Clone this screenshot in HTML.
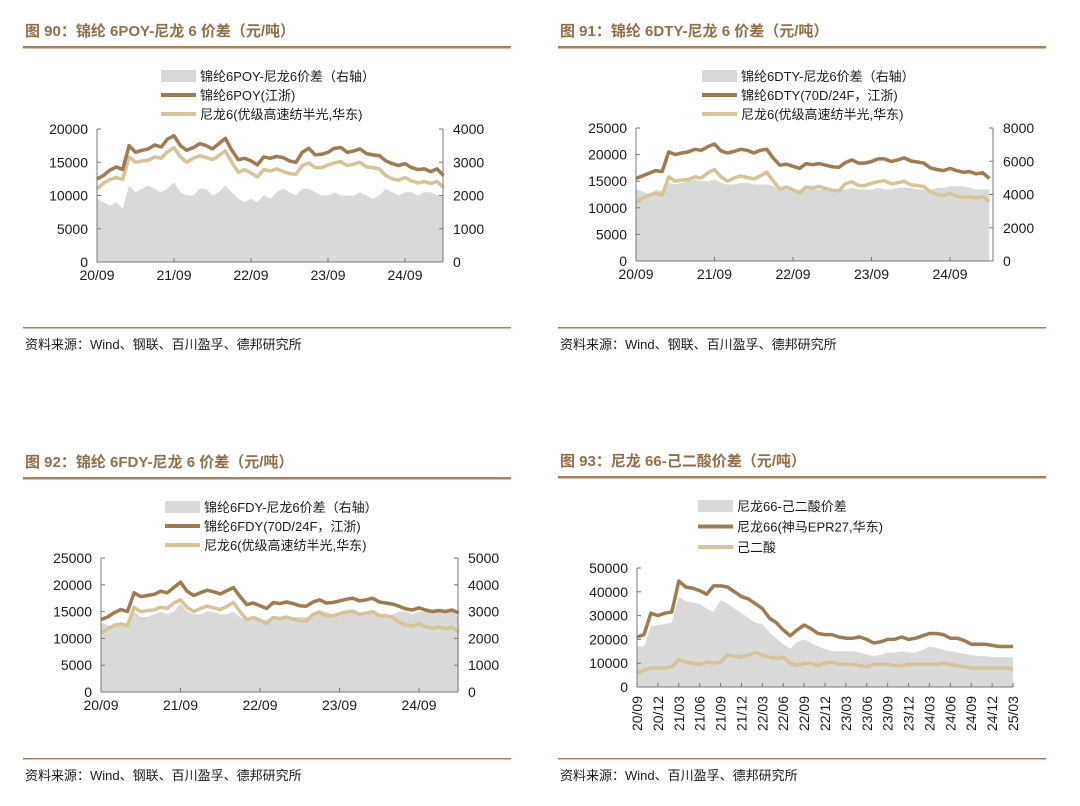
<!DOCTYPE html>
<html><head><meta charset="utf-8">
<style>
body{margin:0;background:#fff;}
svg{display:block;font-family:"Liberation Sans","Noto Sans CJK SC",sans-serif;}
</style></head>
<body>
<svg id="s" width="1080" height="806" xmlns="http://www.w3.org/2000/svg"></svg>
<script>
// ---- Data (monthly, 2020-09 .. 2025-03) ----
const months = ["20/09","20/10","20/11","20/12","21/01","21/02","21/03","21/04","21/05","21/06","21/07","21/08","21/09","21/10","21/11","21/12","22/01","22/02","22/03","22/04","22/05","22/06","22/07","22/08","22/09","22/10","22/11","22/12","23/01","23/02","23/03","23/04","23/05","23/06","23/07","23/08","23/09","23/10","23/11","23/12","24/01","24/02","24/03","24/04","24/05","24/06","24/07","24/08","24/09","24/10","24/11","24/12","25/01","25/02","25/03"];
const nylon6 = [11000,11800,12400,12700,12400,15800,15000,15200,15300,15800,15600,16600,17200,15800,15000,15600,16000,15700,15400,16000,16700,15000,13500,13900,13400,12800,13900,13700,14000,13600,13300,13200,14500,14900,14200,14200,14600,14900,15100,14500,14700,15000,14300,14200,14000,13000,12500,12300,12700,12200,11900,12100,11800,12100,11200];
const poy = [12500,13000,13800,14300,13900,17500,16500,16800,17000,17600,17300,18500,19000,17500,16800,17200,17800,17500,17000,17800,18600,16800,15400,15600,15200,14600,15800,15600,15900,15700,15200,15000,16500,17100,16100,16200,16500,17100,17200,16500,16700,17000,16300,16100,16000,15200,14800,14500,14800,14200,13900,14000,13600,14000,13000];
const poySpread = [1900,1800,1700,1800,1600,2300,2100,2200,2300,2200,2100,2200,2400,2100,2000,2000,2200,2200,2000,2100,2300,2100,1900,1800,1900,1800,2000,1900,2100,2200,2100,2000,2200,2200,2100,2000,2000,2100,2000,2000,2000,2100,2000,1900,2000,2200,2100,2000,2100,2100,2000,2100,2100,2000,2000];
const dty = [15500,16000,16500,17000,16800,20500,20000,20300,20500,21000,20800,21500,22000,20700,20300,20600,21000,20800,20300,20800,21000,19300,18000,18200,17800,17400,18300,18100,18300,18000,17700,17600,18500,19000,18400,18400,18700,19200,19200,18700,19000,19400,18800,18600,18400,17500,17200,17000,17400,17000,16700,16800,16400,16600,15500];
const dtySpread = [4300,4200,4000,4300,4200,4700,4600,4700,4800,4900,4800,4800,4900,4700,4600,4600,4700,4700,4600,4600,4600,4500,4300,4300,4300,4300,4300,4300,4300,4400,4300,4300,4300,4400,4300,4300,4300,4400,4300,4300,4400,4400,4400,4300,4300,4300,4400,4400,4500,4500,4500,4400,4300,4300,4300];
const fdy = [13500,14000,14800,15400,15000,18500,17800,18000,18200,18800,18500,19500,20500,18800,18000,18500,19000,18700,18300,18900,19500,17800,16300,16600,16100,15600,16700,16500,16800,16500,16100,16000,16800,17200,16600,16700,17000,17300,17500,17000,17200,17500,16800,16600,16400,16000,15500,15300,15700,15300,15000,15200,15000,15300,14700];
const fdySpread = [2600,2500,2400,2600,2500,3000,2800,2800,2900,3000,2900,3000,3300,3000,2900,2900,3000,3000,2900,2900,3000,2800,2700,2700,2700,2700,2800,2800,2800,2800,2800,2800,2900,3000,3000,2900,2900,3000,3000,2900,2900,3000,2900,2800,2900,3000,3000,2900,3000,3000,3000,3000,3100,3000,2800];
const pa66 = [21000,22000,31000,30000,31000,31500,44500,42000,41500,40500,39000,42500,42500,42000,40000,38000,37000,35000,33000,29000,27000,24000,21500,24000,26000,24500,22500,22000,22000,21000,20500,20500,21000,20000,18500,19000,20000,20000,21000,20000,20500,21500,22500,22500,22000,20500,20500,19500,18000,18000,18000,17500,17000,17000,17000];
const adipic = [6000,7000,8000,8000,8000,8500,11500,10500,10000,9500,10500,10000,10500,13500,13000,12500,13500,14500,13500,12500,12000,12500,10000,9000,10000,10000,9000,10000,10500,9500,9500,9500,9000,8500,9500,9500,9500,9000,9000,9500,9500,9500,9500,9500,10000,9500,9000,8500,8000,8000,8000,8000,8000,8000,7500];
const pa66Spread = [17000,17000,25500,26000,26500,27000,38000,36000,35500,35000,33000,31500,36500,35000,33000,31000,29000,27000,26500,23000,20500,18000,16000,19000,20000,18500,17000,16000,15000,15000,15000,15000,14500,13500,13000,13500,14500,14500,15000,14500,14500,15500,17000,16500,15500,15000,14500,14000,13500,13000,13000,12500,12500,12500,12500];
const yearTicks = ["20/09","21/09","22/09","23/09","24/09"];
const quarterTicks = ["20/09","20/12","21/03","21/06","21/09","21/12","22/03","22/06","22/09","22/12","23/03","23/06","23/09","23/12","24/03","24/06","24/09","24/12","25/03"];

const NS="http://www.w3.org/2000/svg";
const svg=document.getElementById('s');
const DARK="#9e7b51", LIGHT="#d6c398", GRAY="#d9d9d9", BRN="#a3835d", TXT="#1a1a1a";
function el(tag,attrs,parent){const e=document.createElementNS(NS,tag);for(const k in attrs)e.setAttribute(k,attrs[k]);(parent||svg).appendChild(e);return e;}
function txt(x,y,s,attrs){const t=el('text',Object.assign({x:x,y:y,'font-size':13,fill:TXT},attrs||{}));t.textContent=s;return t;}

function panel(p){
  const g=el('g',{});
  
  
  const t=txt(p.tx,p.ty,p.title,{'font-size':15,'font-weight':'bold',fill:"#8f6e4a"});
  
  
  g.appendChild(t);
  const r1=el('rect',{x:p.rx,y:p.ty+10,width:488,height:2.5,fill:BRN},g);
  
  
  const r2=el('rect',{x:p.rx,y:p.by,width:488,height:1.5,fill:BRN},g);
  
  
  const src=txt(p.tx,p.by+22,p.source,{'font-size':13});
  
  
  g.appendChild(src);

  const L=p.L,R=p.R,Y0=p.Y0,Y1=p.Y1;
  const n=months.length;
  const xs=i=>L+i*p.mw;
  const yl=v=>Y0-(v/p.lmax)*(Y0-Y1);
  const yr=v=>Y0-(v/p.rmax)*(Y0-Y1);
  const ySpread=p.rmax?yr:yl;
  let d="M"+xs(0)+","+Y0;
  p.spread.forEach((v,i)=>{d+=" L"+xs(i).toFixed(1)+","+ySpread(v).toFixed(1);});
  d+=" L"+xs(n-1)+","+Y0+" Z";
  const a=el('path',{d:d,fill:GRAY},g);
  
  
  [[p.light,LIGHT,'series-line-light'],[p.dark,DARK,'series-line-dark']].forEach(s=>{
    const pts=s[0].map((v,i)=>xs(i).toFixed(1)+","+yl(v).toFixed(1)).join(" ");
    const pl=el('polyline',{points:pts,fill:'none',stroke:s[1],'stroke-width':3.5,'stroke-linejoin':'round'},g);
    
    
  });
  el('line',{x1:L,y1:Y1,x2:L,y2:Y0,stroke:'#777','stroke-width':1},g);
  el('line',{x1:L,y1:Y0,x2:R,y2:Y0,stroke:'#777','stroke-width':1},g);
  if(p.rmax) el('line',{x1:R,y1:Y1,x2:R,y2:Y0,stroke:'#777','stroke-width':1},g);
  for(let k=0;k<=p.lsteps;k++){
    const v=p.lmax*k/p.lsteps, y=yl(v);
    el('line',{x1:L,y1:y,x2:L+4,y2:y,stroke:'#777'},g);
    const tl=txt(L-9,y+5,String(v),{'text-anchor':'end','font-size':14});
    
    
    g.appendChild(tl);
  }
  if(p.rmax){
    for(let k=0;k<=p.rsteps;k++){
      const v=p.rmax*k/p.rsteps, y=yr(v);
      el('line',{x1:R-4,y1:y,x2:R,y2:y,stroke:'#777'},g);
      const tr=txt(R+10,y+5,String(v),{'font-size':14});
      
      
      g.appendChild(tr);
    }
  }
  p.xt.forEach(lab=>{
    const i=months.indexOf(lab), x=xs(i);
    el('line',{x1:x,y1:Y0,x2:x,y2:Y0-4,stroke:'#777'},g);
    let tl;
    if(p.rot){ tl=txt(0,0,lab,{'text-anchor':'end','font-size':14,transform:`translate(${x+5},${Y0+9}) rotate(-90)`}); }
    else tl=txt(x,Y0+18,lab,{'text-anchor':'middle','font-size':14});
    
    
    g.appendChild(tl);
  });
  p.legend.forEach((lg,k)=>{
    const y=p.ly+k*p.lg;
    if(k===0) el('rect',{x:p.lx,y:y-6,width:35,height:12,fill:GRAY},g);
    else el('line',{x1:p.lx,y1:y,x2:p.lx+35,y2:y,stroke:k===1?DARK:LIGHT,'stroke-width':4},g);
    const lt=txt(p.lx+39,y+5,lg,{'font-size':13});
    
    
    g.appendChild(lt);
  });
}

panel({name:'chart-90',tx:25,ty:36,rx:23,by:327,title:"图 90：锦纶 6POY-尼龙 6 价差（元/吨）",source:"资料来源：Wind、钢联、百川盈孚、德邦研究所",
  L:97,R:443,Y0:262,Y1:129,mw:77/12,lmax:20000,rmax:4000,lsteps:4,rsteps:4,spread:poySpread,dark:poy,light:nylon6,xt:yearTicks,
  lx:161,ly:76,lg:19,legend:["锦纶6POY-尼龙6价差（右轴）","锦纶6POY(江浙)","尼龙6(优级高速纺半光,华东)"]});
panel({name:'chart-91',tx:560,ty:36,rx:558,by:327,title:"图 91：锦纶 6DTY-尼龙 6 价差（元/吨）",source:"资料来源：Wind、钢联、百川盈孚、德邦研究所",
  L:636,R:993,Y0:261,Y1:128,mw:78.5/12,lmax:25000,rmax:8000,lsteps:5,rsteps:4,spread:dtySpread,dark:dty,light:nylon6,xt:yearTicks,
  lx:702,ly:76,lg:19,legend:["锦纶6DTY-尼龙6价差（右轴）","锦纶6DTY(70D/24F，江浙)","尼龙6(优级高速纺半光,华东)"]});
panel({name:'chart-92',tx:25,ty:467,rx:23,by:758,title:"图 92：锦纶 6FDY-尼龙 6 价差（元/吨）",source:"资料来源：Wind、钢联、百川盈孚、德邦研究所",
  L:101,R:458,Y0:692,Y1:558,mw:79.5/12,lmax:25000,rmax:5000,lsteps:5,rsteps:5,spread:fdySpread,dark:fdy,light:nylon6,xt:yearTicks,
  lx:165,ly:507,lg:19,legend:["锦纶6FDY-尼龙6价差（右轴）","锦纶6FDY(70D/24F，江浙)","尼龙6(优级高速纺半光,华东)"]});
panel({name:'chart-93',tx:560,ty:466,rx:558,by:758,title:"图 93：尼龙 66-己二酸价差（元/吨）",source:"资料来源：Wind、百川盈孚、德邦研究所",
  L:637,R:1013,Y0:687,Y1:568,mw:376/54,lmax:50000,rmax:0,lsteps:5,rsteps:0,spread:pa66Spread,dark:pa66,light:adipic,xt:quarterTicks,rot:true,
  lx:698,ly:506,lg:20.5,legend:["尼龙66-己二酸价差","尼龙66(神马EPR27,华东)","己二酸"]});
</script>
</body></html>
